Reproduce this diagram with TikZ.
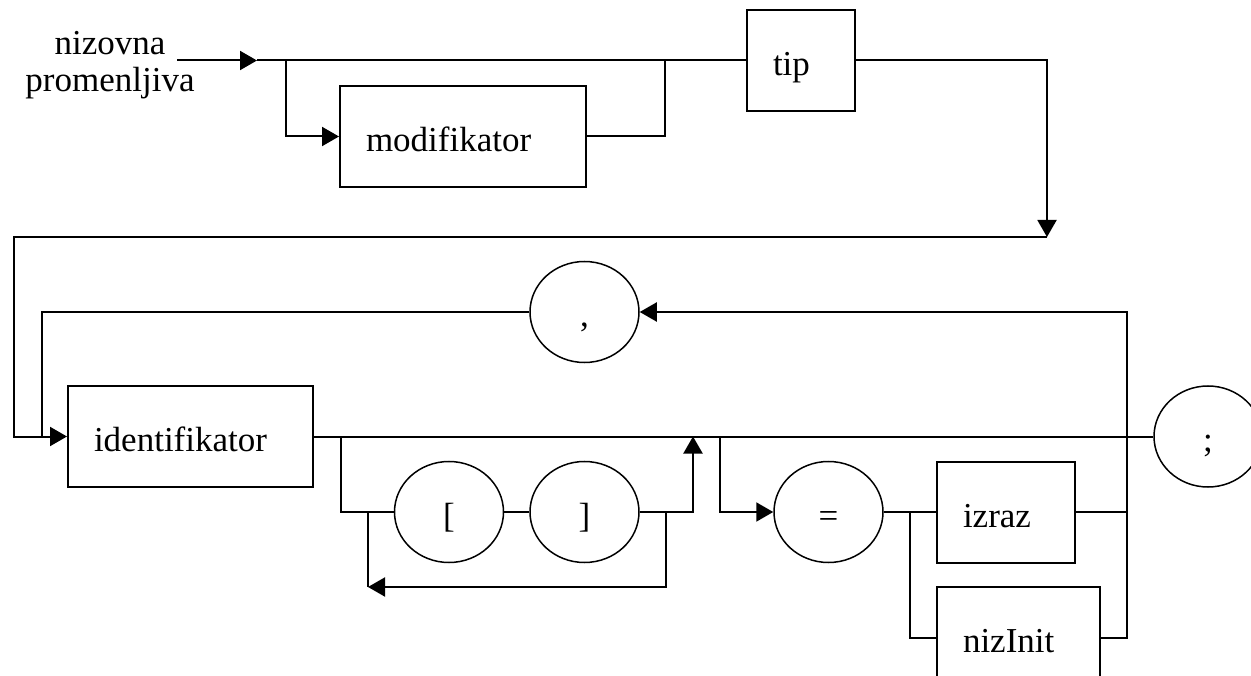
\documentclass[tikz,border=0pt]{standalone}
\usepackage{fontspec}
\setmainfont{Liberation Serif}
\usetikzlibrary{arrows.meta,shapes.geometric}
\begin{document}
\begin{tikzpicture}[x=1pt,y=-1pt,
  every node/.style={font=\fontsize{35}{37}\selectfont},
  boxnode/.style={draw, line width=2pt, minimum height=101pt, inner xsep=26pt, inner ysep=0pt, text height=30pt, text depth=0pt, align=left},
  tok/.style={draw, ellipse, line width=1.5pt, minimum width=109pt, minimum height=101pt, inner sep=0pt, text height=30pt, text depth=0pt},
  ln/.style={line width=2pt},
  arr/.style={line width=2pt, -{Triangle[length=17pt,width=19pt]}}]
\useasboundingbox (0,0) rectangle (1251,676);
% label
\node[align=center] (lbl) at (110,65) {nizovna\\promenljiva};
% boxes
\node[boxnode, text width=194pt] (mod) at (463,136.5) {modifikator};
\node[boxnode, text width=56pt] (tip) at (801,60.5) {tip};
\node[boxnode, text width=193pt] (id) at (190.5,436.5) {identifikator};
\node[boxnode, text width=86pt] (izraz) at (1006,512) {izraz};
\node[boxnode, text width=111pt] (niz) at (1018.5,637.5) {nizInit};
% tokens
\node[tok] (comma) at (584.5,312) {,};
\node[tok] (lb) at (449,512) {[};
\node[tok] (rb) at (584.5,512) {]};
\node[tok] (eq) at (828.5,512) {=};
\node[tok, minimum width=108pt] (semi) at (1208,436.5) {;};
% coordinates
\coordinate (s) at (177,60.5);
\coordinate (j1) at (257,60.5);
\coordinate (b1) at (286,60.5);
\coordinate (b2) at (665,60.5);
\coordinate (c1) at (1047,237);
\coordinate (c2) at (14,237);
\coordinate (b0) at (42,436.5);
\coordinate (b3) at (341,436.5);
\coordinate (u1) at (693,436.5);
\coordinate (l1) at (666,512);
\coordinate (l2) at (368,587);
\coordinate (l3) at (368,512);
\coordinate (b4) at (720,436.5);
\coordinate (b5) at (910,512);
\coordinate (r1) at (1127,312);
\coordinate (r3) at (1127,512);
% connectors
\draw[arr] (s) -- (j1);
\draw[ln] (j1) -- (tip.west);
\draw[arr] (b1) |- (mod.west);
\draw[ln] (mod.east) -| (b2);
\draw[arr] (tip.east) -| (c1);
\draw[arr] (c1) -- (c2) |- (id.west);
\draw[ln] (comma.west) -| (b0);
\draw[ln] (id.east) -- (semi.west);
\draw[ln] (b3) |- (lb.west);
\draw[ln] (lb.east) -- (rb.west);
\draw[arr] (rb.east) -| (u1);
\draw[arr] (l1) |- (l2);
\draw[ln] (l2) -- (l3);
\draw[arr] (b4) |- (eq.west);
\draw[ln] (eq.east) -- (izraz.west);
\draw[ln] (b5) |- (niz.west);
\draw[ln] (izraz.east) -- (r3);
\draw[arr] (niz.east) -| (r1) -- (comma.east);
\end{tikzpicture}
\end{document}
